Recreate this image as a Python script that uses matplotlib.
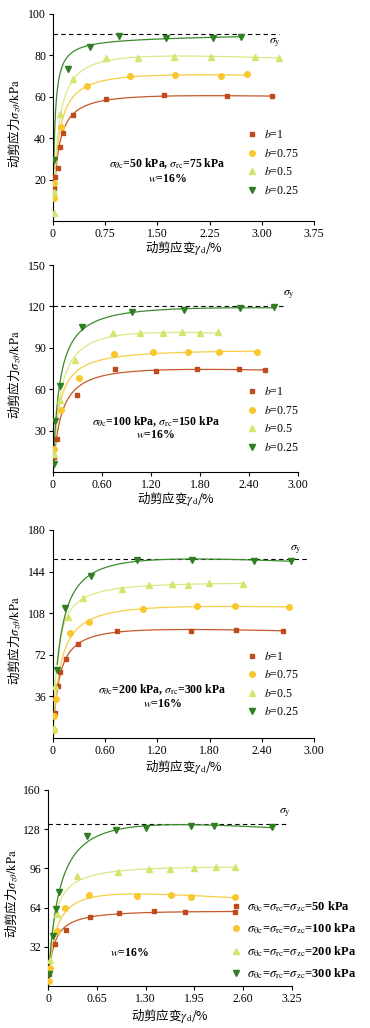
import numpy as np
import matplotlib
matplotlib.use("Agg")
import matplotlib.pyplot as plt

plt.rcParams['font.family'] = ['Liberation Serif', 'Noto Sans CJK SC', 'DejaVu Sans']
plt.rcParams['mathtext.fontset'] = 'stix'

# ---------------- data ----------------
# panel 1 : sigma_theta_c=50 kPa, sigma_rc=75 kPa
g1_b1 = [0.015, 0.03, 0.07, 0.10, 0.14, 0.29, 0.76, 1.59, 2.50, 3.14]
s1_b1 = [15.8, 21.4, 25.4, 35.9, 42.3, 51.0, 58.8, 60.9, 60.5, 60.2]
g1_b075 = [0.015, 0.02, 0.12, 0.49, 1.10, 1.75, 2.42, 2.79]
s1_b075 = [11.0, 18.5, 45.6, 65.4, 70.0, 70.4, 70.0, 70.9]
g1_b05 = [0.01, 0.015, 0.10, 0.29, 0.76, 1.22, 1.74, 2.27, 2.90, 3.25]
s1_b05 = [3.7, 14.0, 51.7, 68.8, 78.6, 78.6, 79.0, 79.4, 79.2, 78.9]
g1_b025 = [0.01, 0.22, 0.53, 0.95, 1.62, 2.30, 2.70]
s1_b025 = [29.5, 73.3, 83.9, 89.4, 88.2, 88.4, 89.0]

# panel 2 : sigma_theta_c=100 kPa, sigma_rc=150 kPa
g2_b1 = [0.01, 0.05, 0.29, 0.76, 1.26, 1.76, 2.28, 2.60]
s2_b1 = [10.9, 24.2, 55.6, 74.3, 73.3, 74.3, 74.3, 73.8]
g2_b075 = [0.01, 0.10, 0.32, 0.75, 1.22, 1.65, 2.03, 2.50]
s2_b075 = [17.0, 45.2, 68.2, 85.2, 87.1, 87.1, 87.1, 87.1]
g2_b05 = [0.01, 0.08, 0.27, 0.73, 1.07, 1.35, 1.58, 1.80, 2.02]
s2_b05 = [13.0, 52.0, 81.5, 100.4, 100.4, 100.4, 101.4, 100.4, 101.1]
g2_b025 = [0.01, 0.03, 0.08, 0.36, 0.97, 1.60, 2.29, 2.71]
s2_b025 = [6.0, 37.0, 62.2, 105.2, 115.7, 117.3, 119.0, 119.3]

# panel 3 : sigma_theta_c=200 kPa, sigma_rc=300 kPa
g3_b1 = [0.02, 0.06, 0.08, 0.15, 0.29, 0.74, 1.59, 2.10, 2.64]
s3_b1 = [21.6, 44.6, 57.0, 68.5, 81.5, 92.7, 93.0, 93.6, 93.0]
g3_b075 = [0.01, 0.015, 0.03, 0.20, 0.41, 1.03, 1.65, 2.09, 2.71]
s3_b075 = [6.6, 18.7, 33.7, 90.7, 100.0, 111.5, 113.8, 113.8, 113.5]
g3_b05 = [0.01, 0.02, 0.17, 0.34, 0.79, 1.10, 1.37, 1.55, 1.79, 2.18]
s3_b05 = [8.6, 44.6, 104.5, 121.0, 128.7, 132.5, 133.0, 132.5, 134.0, 133.4]
g3_b025 = [0.05, 0.14, 0.44, 0.96, 1.60, 2.31, 2.74]
s3_b025 = [58.5, 112.3, 140.6, 154.0, 154.0, 153.5, 153.5]

# panel 4 : isotropic consolidation
g4_50 = [0.01, 0.09, 0.24, 0.56, 0.95, 1.41, 1.83, 2.49]
s4_50 = [9.8, 34.3, 45.7, 56.6, 59.3, 61.0, 60.1, 60.7]
g4_100 = [0.01, 0.02, 0.12, 0.23, 0.55, 1.18, 1.64, 1.90, 2.49]
s4_100 = [4.4, 14.4, 45.2, 63.4, 74.3, 73.5, 74.3, 72.9, 72.9]
g4_200 = [0.02, 0.12, 0.38, 0.93, 1.35, 1.63, 1.94, 2.24, 2.49]
s4_200 = [21.2, 58.8, 89.8, 93.3, 95.2, 95.2, 96.0, 97.4, 97.4]
g4_300 = [0.01, 0.06, 0.10, 0.15, 0.52, 0.90, 1.31, 1.91, 2.21, 2.99]
s4_300 = [9.8, 40.8, 62.6, 77.0, 122.4, 127.3, 129.3, 130.9, 130.6, 130.0]

b_labels = ['$b$=1', '$b$=0.75', '$b$=0.5', '$b$=0.25']
p_labels = [r'$\sigma_{\mathrm{\theta c}}$=$\sigma_{\mathrm{rc}}$=$\sigma_{\mathrm{zc}}$=50 kPa',
            r'$\sigma_{\mathrm{\theta c}}$=$\sigma_{\mathrm{rc}}$=$\sigma_{\mathrm{zc}}$=100 kPa',
            r'$\sigma_{\mathrm{\theta c}}$=$\sigma_{\mathrm{rc}}$=$\sigma_{\mathrm{zc}}$=200 kPa',
            r'$\sigma_{\mathrm{\theta c}}$=$\sigma_{\mathrm{rc}}$=$\sigma_{\mathrm{zc}}$=300 kPa']
annotations = [r'$\sigma_{\theta \mathrm{c}}$=50 kPa, $\sigma_{\mathrm{rc}}$=75 kPa',
               r'$\sigma_{\theta \mathrm{c}}$=100 kPa, $\sigma_{\mathrm{rc}}$=150 kPa',
               r'$\sigma_{\theta \mathrm{c}}$=200 kPa, $\sigma_{\mathrm{rc}}$=300 kPa',
               None]
sigma_y = [90.2, 120.5, 155.2, 132.2]
sigma_y_end = [3.24, 2.82, 2.94, 3.17]
xticks = [[0, 0.75, 1.50, 2.25, 3.00, 3.75],
          [0, 0.60, 1.20, 1.80, 2.40, 3.00],
          [0, 0.60, 1.20, 1.80, 2.40, 3.00],
          [0, 0.65, 1.30, 1.95, 2.60, 3.25]]
yticks = [[20, 40, 60, 80, 100],
          [30, 60, 90, 120, 150],
          [36, 72, 108, 144, 180],
          [32, 64, 96, 128, 160]]

panels = [
    [(g1_b1, s1_b1), (g1_b075, s1_b075), (g1_b05, s1_b05), (g1_b025, s1_b025)],
    [(g2_b1, s2_b1), (g2_b075, s2_b075), (g2_b05, s2_b05), (g2_b025, s2_b025)],
    [(g3_b1, s3_b1), (g3_b075, s3_b075), (g3_b05, s3_b05), (g3_b025, s3_b025)],
    [(g4_50, s4_50), (g4_100, s4_100), (g4_200, s4_200), (g4_300, s4_300)],
]

# ---------------- style ----------------
colors = ['#c04a1c', '#f7c72c', '#d5e46c', '#2f7f22']
line_colors = ['#c4592a', '#f5cd45', '#dbe886', '#3a8a2c']
markers = ['s', 'o', '^', 'v']
msizes = [3.2, 4.0, 4.0, 4.0]

W, H = 370, 1028
fig = plt.figure(figsize=(W / 100, H / 100), dpi=100)

# axes boxes in pixels: left, right, top, bottom
boxes = [(53, 314, 14, 221), (53, 298, 265, 472), (53, 314, 530, 738), (48, 292, 790, 986)]
text_pos = [((0.437, 0.275), (0.437, 0.205)),
            ((0.42, 0.242), (0.42, 0.178)),
            ((0.418, 0.231), (0.418, 0.163)),
            (None, (0.336, 0.168))]
sy_text = [(3.1, 86.0), (2.82, 128.5), (2.72, 162.5), (3.08, 141.5)]
leg_anchor = [(0.735, 0.455), (0.785, 0.425), (0.735, 0.43), (0.74, 0.455)]
ylabel_x = [-0.146, -0.155, -0.146, -0.148]
xlabel_y = [-0.13, -0.13, -0.14, -0.153]


def fit_curve(g, s):
    g = np.asarray(g, float)
    s = np.asarray(s, float)
    w = s ** 2 / g
    w = w / w.max()
    coef = np.polyfit(g, g / s, 2, w=np.sqrt(w))
    gg = np.linspace(g.min(), g.max(), 300)
    return gg, gg / np.polyval(coef, gg)


for i, (l, r, t, b) in enumerate(boxes):
    ax = fig.add_axes([l / W, 1 - b / H, (r - l) / W, (b - t) / H])
    handles = []
    for j, (g, s) in enumerate(panels[i]):
        gg, ss = fit_curve(g, s)
        ax.plot(gg, ss, color=line_colors[j], lw=0.9, zorder=2)
        h, = ax.plot(g, s, linestyle='none', marker=markers[j], ms=msizes[j],
                     color=colors[j], mec=colors[j], zorder=3)
        handles.append(h)
    ax.plot([0, sigma_y_end[i]], [sigma_y[i], sigma_y[i]], color='black',
            ls=(0, (4, 3)), lw=0.8, zorder=1)
    ax.text(sy_text[i][0], sy_text[i][1], r'$\sigma_{\mathrm{y}}$', fontsize=8.5,
            ha='left', va='center')

    ax.set_xlim(0, xticks[i][-1])
    ax.set_ylim(0, yticks[i][-1])
    ax.set_xticks(xticks[i])
    ax.set_xticklabels(['0'] + ['%.2f' % v for v in xticks[i][1:]])
    ax.set_yticks(yticks[i])
    ax.set_yticklabels([str(v) for v in yticks[i]])
    ax.tick_params(direction='out', length=3, width=0.8, labelsize=8.5, pad=2)
    for sp in ['top', 'right']:
        ax.spines[sp].set_visible(False)
    for sp in ['left', 'bottom']:
        ax.spines[sp].set_linewidth(0.8)

    ax.set_xlabel(r'动剪应变$\gamma_{\mathrm{d}}$/%', fontsize=9,
                  family=['Noto Sans CJK SC'])
    ax.xaxis.set_label_coords(0.5, xlabel_y[i])
    ax.xaxis.label.set_va('center')
    ax.set_ylabel(r'动剪应力$\sigma_{z\theta}\mathrm{/kPa}$', fontsize=9,
                  family=['Noto Sans CJK SC'])
    ax.yaxis.set_label_coords(ylabel_x[i], 0.47)
    ax.yaxis.label.set_va('center')

    tp = text_pos[i]
    if annotations[i] is not None:
        ax.text(tp[0][0], tp[0][1], annotations[i], transform=ax.transAxes,
                ha='center', va='center', fontsize=8.5, fontweight='bold')
    ax.text(tp[1][0], tp[1][1], r'$w$=16%', transform=ax.transAxes,
            ha='center', va='center', fontsize=8.5, fontweight='bold')

    if i < 3:
        ax.legend(handles, b_labels, loc='upper left', bbox_to_anchor=leg_anchor[i],
                  frameon=False, handlelength=0.8, handletextpad=0.6,
                  labelspacing=0.55, borderaxespad=0, borderpad=0.2,
                  prop={'size': 8.5})
    else:
        ax.legend(handles, p_labels, loc='upper left', bbox_to_anchor=leg_anchor[i],
                  frameon=False, handlelength=0.8, handletextpad=0.5,
                  labelspacing=0.6, borderaxespad=0, borderpad=0.2,
                  prop={'size': 9, 'weight': 'bold'})

fig.savefig('out.png', dpi=100)
